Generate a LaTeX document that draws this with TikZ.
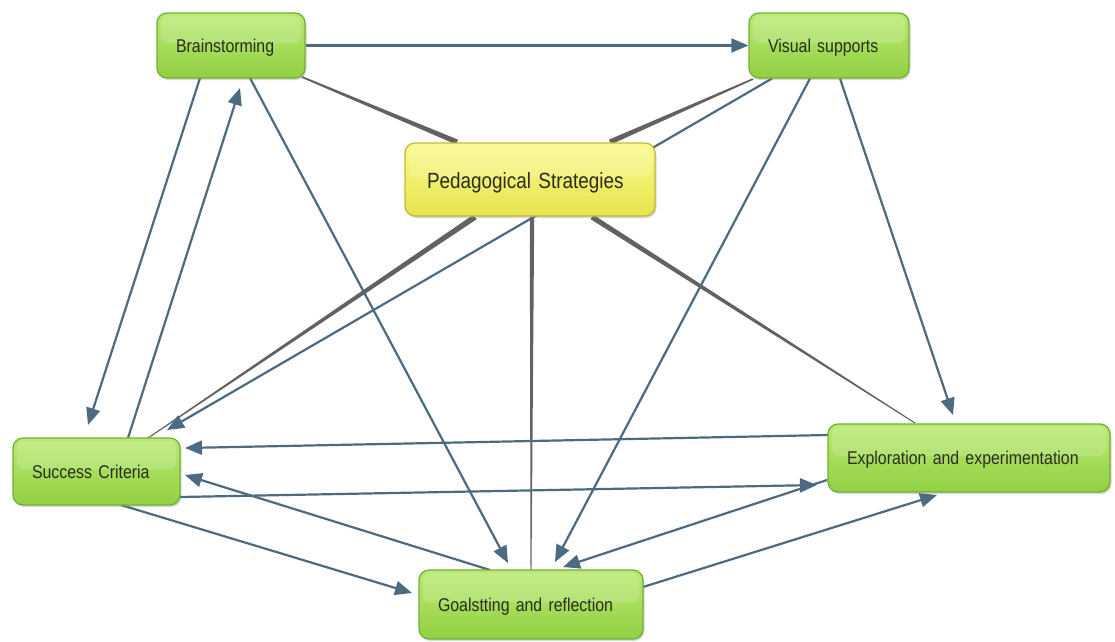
\documentclass[tikz,border=0pt]{standalone}
\usepackage{fontspec}
\newfontfamily\boxfont{Liberation Sans}[FakeStretch=0.86, WordSpace=0.75]
\usetikzlibrary{arrows.meta,calc,shadows,backgrounds}

\definecolor{linkblue}{RGB}{76,106,128}
\definecolor{spokegrey}{RGB}{98,98,98}
\definecolor{leaftop}{RGB}{186,234,114}
\definecolor{leafbot}{RGB}{146,208,66}
\definecolor{leafrim}{RGB}{116,176,50}
\definecolor{hubtop}{RGB}{250,250,140}
\definecolor{hubbot}{RGB}{230,228,78}
\definecolor{hubrim}{RGB}{194,186,58}
\definecolor{labelink}{RGB}{44,44,36}

% tapered spoke from the hub to a leaf: #1 hub end, #2 leaf end, #3/#4 half widths
\newcommand\spokeline[4]{%
  \fill[spokegrey] ($(#1)!#3!90:(#2)$) -- ($(#1)!#3!-90:(#2)$)
    -- ($(#2)!#4!90:(#1)$) -- ($(#2)!#4!-90:(#1)$) -- cycle;}

\tikzset{
  box/.style={rounded corners=10pt, line width=1.3pt, align=left,
    inner xsep=19pt, inner ysep=0pt, text=labelink,
    drop shadow={shadow xshift=1.5pt, shadow yshift=-2pt, opacity=0.3},
    path picture={\fill[white, opacity=0.16, rounded corners=7pt]
      ([shift={(4pt,-3pt)}]path picture bounding box.north west) rectangle
      ([shift={(-4pt,2pt)}]path picture bounding box.east);}},
  leaf/.style={box, draw=leafrim, top color=leaftop, bottom color=leafbot,
    text height=17pt, text depth=4pt,
    font=\boxfont\fontsize{18.5}{20}\selectfont},
  hub/.style={box, draw=hubrim, top color=hubtop, bottom color=hubbot,
    inner xsep=22pt, text height=22pt, text depth=5pt,
    font=\boxfont\fontsize{22}{24}\selectfont},
  link/.style={draw=linkblue, line width=2.2pt, -{Triangle[length=17pt,width=14pt]}},
}

\begin{document}
\begin{tikzpicture}[x=1pt, y=-1pt]
  \useasboundingbox (0,0) rectangle (1115,641);

  % nodes
  \node[leaf, text width=110pt, minimum height=65pt] (brain) at (231,45.5) {Brainstorming};
  \node[leaf, text width=122pt, minimum height=65pt] (vis) at (829,45.5) {Visual supports};
  \node[hub, text width=206pt, minimum height=73pt] (ped) at (530,179.5) {Pedagogical Strategies};
  \node[leaf, text width=129pt, minimum height=67pt] (sc) at (96.5,471.5) {Success Criteria};
  \node[leaf, text width=244pt, minimum height=68pt] (expl) at (969,458) {Exploration and experimentation};
  \node[leaf, text width=186pt, minimum height=69pt] (goal) at (531,604.5) {Goalstting and reflection};

  % spoke end points
  \coordinate (hb) at ([shift={(-73,-37.5)}]ped.center);
  \coordinate (lb) at ([shift={(71,31.5)}]brain.center);
  \coordinate (hv) at ([shift={(80,-37.5)}]ped.center);
  \coordinate (lv) at ([shift={(-76,33.5)}]vis.center);
  \coordinate (hs) at ([shift={(-55,37.5)}]ped.center);
  \coordinate (ls) at ([shift={(51.5,-33.5)}]sc.center);
  \coordinate (hg) at ([shift={(2,37.5)}]ped.center);
  \coordinate (lg) at ([shift={(0,-34.5)}]goal.center);
  \coordinate (he) at ([shift={(62,37.5)}]ped.center);
  \coordinate (le) at ([shift={(-54,-35)}]expl.center);

  \begin{scope}[on background layer]
    \fill[white] (0,0) rectangle (1115,641);

    % hub spokes
    \spokeline{hb}{lb}{2.6pt}{0.9pt}
    \spokeline{hv}{lv}{2.6pt}{0.8pt}
    \spokeline{hs}{ls}{2.8pt}{0.5pt}
    \spokeline{hg}{lg}{2.2pt}{0.5pt}
    \spokeline{he}{le}{2.6pt}{0.5pt}

    % links between strategies
    \draw[link] (brain.east) -- (vis.west);
    \draw[link] ([shift={(-31,32.5)}]brain.center) -- ([shift={(-8.5,-46.5)}]sc.center);
    \draw[link] ([shift={(31.5,-33.5)}]sc.center) -- ([shift={(9,42.5)}]brain.center);
    \draw[link] ([shift={(19,32.5)}]brain.center) -- ([shift={(-23,-41.5)}]goal.center);
    \draw[link] ([shift={(-19,33)}]vis.center) -- ([shift={(24,-42.5)}]goal.center);
    \draw[link] ([shift={(11,33)}]vis.center) -- ([shift={(-16,-43)}]expl.center);
    \draw[link] ([shift={(-57,33)}]vis.center) -- ([shift={(70.5,-41.5)}]sc.center);
    \draw[link] ([shift={(-141,-23)}]expl.center) -- ([shift={(88.5,-23.5)}]sc.center);
    \draw[link] ([shift={(83.5,25.5)}]sc.center) -- ([shift={(-152,27)}]expl.center);
    \draw[link] ([shift={(-41,-34.5)}]goal.center) -- ([shift={(88.5,3.5)}]sc.center);
    \draw[link] ([shift={(24.5,33.5)}]sc.center) -- ([shift={(-119,-11.5)}]goal.center);
    \draw[link] ([shift={(-142,22)}]expl.center) -- ([shift={(32,-37.5)}]goal.center);
    \draw[link] ([shift={(112,-17.5)}]goal.center) -- ([shift={(-32,37)}]expl.center);
  \end{scope}
\end{tikzpicture}
\end{document}
